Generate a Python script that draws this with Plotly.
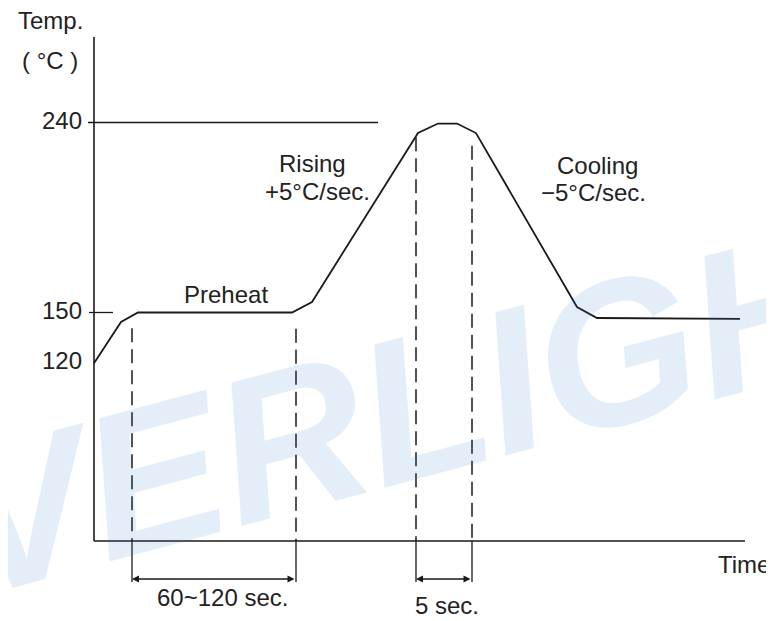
import plotly.graph_objects as go

# ---------------- data (schematic reflow profile) ----------------
time_pts = [0, 27, 44, 198, 218, 324, 344, 363, 382, 483, 503, 646]
temp_pts = [126, 145.5, 150, 150, 155, 235, 239.5, 239.5, 235, 152.6, 147.4, 147]

ytick_vals = [240, 150, 126]
ytick_text = ["240", "150", "120"]

# dashed guide lines (time position, temperature where guide starts)
guide_times = [38, 202, 322, 378]
guide_tops = [142.6, 142.3, 233, 229]

# dimension spans
span_preheat = [38, 202]
span_peak = [322, 378]
span_labels = ["60~120 sec.", "5 sec."]

# axes extents
x_axis_level = 41.8
y_axis_top = 280.5
x_axis_end = 651
ref240_end = 284
dim_bottom = 22.3
dim_level = 23.8

INK = "#1a1a1a"
FONT = dict(family="Liberation Sans, Arial, sans-serif", size=24, color="#222")

fig = go.Figure()

# axes lines
fig.add_trace(go.Scatter(
    x=[0, 0, None, 0, x_axis_end],
    y=[y_axis_top, x_axis_level, None, x_axis_level, x_axis_level],
    mode="lines", line=dict(color=INK, width=1.6), hoverinfo="skip"))

# 240 reference line and 150 tick
fig.add_trace(go.Scatter(
    x=[-6, ref240_end, None, -5, 19],
    y=[240, 240, None, 150, 150],
    mode="lines", line=dict(color=INK, width=1.3), hoverinfo="skip"))

# dashed guides
gx, gy = [], []
for t, top in zip(guide_times, guide_tops):
    gx += [t, t, None]
    gy += [top, x_axis_level, None]
fig.add_trace(go.Scatter(x=gx, y=gy, mode="lines",
                         line=dict(color=INK, width=1.5, dash="14px,7px"),
                         hoverinfo="skip"))

# solid extension lines below the axis
ex, ey = [], []
for t in guide_times:
    ex += [t, t, None]
    ey += [x_axis_level, dim_bottom, None]
fig.add_trace(go.Scatter(x=ex, y=ey, mode="lines",
                         line=dict(color=INK, width=1.3), hoverinfo="skip"))

# profile curve
fig.add_trace(go.Scatter(x=time_pts, y=temp_pts, mode="lines",
                         line=dict(color=INK, width=1.8), hoverinfo="skip"))

# tick labels
fig.add_trace(go.Scatter(x=[-12] * 3, y=ytick_vals, text=ytick_text,
                         mode="text", textposition="middle left",
                         textfont=FONT, hoverinfo="skip"))

annotations = []
# watermark
annotations.append(dict(
    text="EVERLIGHT", x=303, y=103.8, xref="x", yref="y", showarrow=False,
    textangle=-15, xanchor="center", yanchor="middle",
    font=dict(family="Liberation Sans, Arial", size=205,
              color="rgba(40,120,200,0.13)", weight="bold", style="italic")))

# dimension arrows
for span in (span_preheat, span_peak):
    annotations.append(dict(
        x=span[0], y=dim_level, ax=span[1], ay=dim_level,
        xref="x", yref="y", axref="x", ayref="y", text="",
        showarrow=True, arrowside="end+start", arrowhead=2,
        arrowsize=1, arrowwidth=1.4, arrowcolor=INK,
        standoff=0, startstandoff=0))

labels = [
    ("Temp.", -44, 288.5, "center"),
    ("( °C )", -44, 269.5, "center"),
    ("Preheat", 132, 158.5, "center"),
    ("Rising", 183, 220.5, "left"),
    ("+5°C/sec.", 278, 207.5, "right"),
    ("Cooling", 461, 219.5, "left"),
    ("−5°C/sec.", 554, 207.0, "right"),
    ("Time", 650, 30.4, "center"),
    (span_labels[0], 128, 14.8, "center"),
    (span_labels[1], 353, 11.0, "center"),
]
for txt, x, y, anc in labels:
    annotations.append(dict(text=txt, x=x, y=y, xref="x", yref="y",
                            showarrow=False, xanchor=anc, yanchor="middle",
                            font=FONT))

# the page adds an 8px body margin, so the figure is 8px smaller each way
fig.update_layout(
    width=766, height=613,
    margin=dict(l=0, r=0, t=0, b=0),
    paper_bgcolor="white", plot_bgcolor="white",
    showlegend=False,
    xaxis=dict(range=[-86, 680], visible=False, fixedrange=True),
    yaxis=dict(range=[3.87, 294.24], visible=False, fixedrange=True),
    annotations=annotations,
)

fig.write_html("out.html")
